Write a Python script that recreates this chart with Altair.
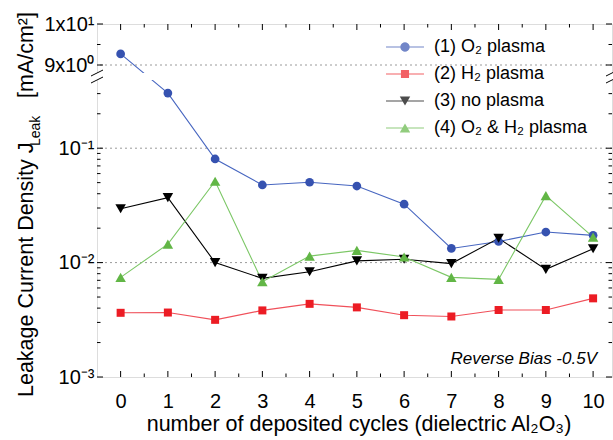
import math
import altair as alt
import pandas as pd

# ---------------- data ----------------
CYCLES = list(range(11))
SERIES = ["(1) O₂ plasma", "(2) H₂ plasma", "(3) no plasma", "(4) O₂ & H₂ plasma"]
O2_PLASMA = [9.27, 0.303, 0.0805, 0.0477, 0.0504, 0.0467, 0.0324, 0.0133, 0.0153, 0.0185, 0.0173]
H2_PLASMA = [0.00364, 0.00366, 0.00316, 0.00382, 0.00436, 0.00406, 0.00347, 0.00338, 0.00385, 0.00385, 0.00487]
NO_PLASMA = [0.0296, 0.0370, 0.0100, 0.00728, 0.00833, 0.01035, 0.0107, 0.0098, 0.0163, 0.00873, 0.0132]
O2_H2_PLASMA = [0.00743, 0.0145, 0.0514, 0.0068, 0.0114, 0.0128, 0.0112, 0.00743, 0.00713, 0.0385, 0.0167]

X_TICKS_MAJOR = CYCLES
X_TICKS_MINOR = [0.5, 1.5, 2.5, 3.5, 4.5, 5.5, 6.5, 7.5, 8.5, 9.5]
Y_TICKS_MAJOR = [10, 9, 0.1, 0.01, 0.001]
Y_TICK_LABELS = ["1x10¹", "9x10⁰", "10⁻¹", "10⁻²", "10⁻³"]
Y_TICKS_MINOR = [9.5, 0.4, 0.3, 0.2,
                 0.09, 0.08, 0.07, 0.06, 0.05, 0.04, 0.03, 0.02,
                 0.009, 0.008, 0.007, 0.006, 0.005, 0.004, 0.003, 0.002]
GRID_VALUES = [9, 0.1, 0.01]

# ---------------- style ----------------
MARKER_COLORS = ["#3652b0", "#ec1c24", "#000000", "#62b646"]
LINE_COLORS = ["#4766c0", "#f0505a", "#000000", "#7cc766"]
MARKER_SHAPES = ["circle", "square", "triangle-down", "triangle-up"]
MARKER_SIZES = [76, 64, 110, 110]
FONT = "Liberation Sans"

W, H = 515, 353
DECADE_PX = 114.4          # lower (log) segment, px per decade
UPPER_PX = 41.0            # upper (linear) segment, px per unit


# legend symbols: a line with the marker on it (custom polygon paths, r = 9 px)
def poly(pts):
    return "M" + "L".join(f"{x:.3f},{y:.3f}" for x, y in pts) + "Z"


LINE_PATH = poly([(-2.11, -0.06), (2.11, -0.06), (2.11, 0.06), (-2.11, 0.06)])
CIRCLE_PATH = poly([(0.52 * math.cos(k * math.pi / 10), 0.52 * math.sin(k * math.pi / 10)) for k in range(20)])
SQUARE_PATH = poly([(-0.45, -0.45), (0.45, -0.45), (0.45, 0.45), (-0.45, 0.45)])
TRI_DOWN_PATH = poly([(-0.58, -0.5), (0.58, -0.5), (0, 0.5)])
TRI_UP_PATH = poly([(0.58, 0.5), (-0.58, 0.5), (0, -0.5)])
LEGEND_PATHS = [LINE_PATH + CIRCLE_PATH, LINE_PATH + SQUARE_PATH,
                LINE_PATH + TRI_DOWN_PATH, LINE_PATH + TRI_UP_PATH]


def ypx(v):
    if v >= 1:
        return H - (10 - v) * UPPER_PX
    return (math.log10(v) + 3) * DECADE_PX


Y_EXPR = (f"datum.v >= 1 ? {H} - (10 - datum.v) * {UPPER_PX} : "
          f"(log(datum.v) / LN10 + 3) * {DECADE_PX}")

rows = []
for name, vals in zip(SERIES, [O2_PLASMA, H2_PLASMA, NO_PLASMA, O2_H2_PLASMA]):
    for c, v in zip(CYCLES, vals):
        rows.append({"series": name, "cycle": c, "v": v})
df = pd.DataFrame(rows)

label_expr = "".join(
    f"abs(datum.value - {ypx(v):.4f}) < 0.5 ? '{lab}' : "
    for v, lab in zip(Y_TICKS_MAJOR, Y_TICK_LABELS)
) + "''"

xscale = alt.Scale(domain=[-0.5, 10.4], nice=False, zero=False)
yscale = alt.Scale(domain=[0, H], nice=False, zero=False)
xaxis = alt.Axis(values=X_TICKS_MAJOR, format="d", title=None, grid=False, domain=False,
                 ticks=False, tickSize=0, labelPadding=14, labelFontSize=20,
                 labelFont=FONT, labelColor="black", labelFlush=False, labelOverlap=False)
yaxis = alt.Axis(values=[ypx(v) for v in Y_TICKS_MAJOR], labelExpr=label_expr, title=None,
                 grid=False, domain=False, ticks=False, tickSize=0, labelPadding=3,
                 labelFontSize=20, labelFont=FONT, labelColor="black", labelOverlap=False)


def X(field):
    return alt.X(field, type="quantitative", scale=xscale, axis=xaxis)


def Y(field):
    return alt.Y(field, type="quantitative", scale=yscale, axis=yaxis)


one = alt.Data(values=[{"a": 1}])
layers = []

# dotted grid lines
layers.append(
    alt.Chart(pd.DataFrame({"v": GRID_VALUES})).transform_calculate(ypx=Y_EXPR)
    .mark_rule(color="#9a9a9a", strokeDash=[2, 3], strokeWidth=1)
    .encode(y=Y("ypx"))
)

# inward ticks (bottom / top)
for vals, ln in [(X_TICKS_MAJOR, 6), (X_TICKS_MINOR, 3.5)]:
    d = pd.DataFrame({"t": vals})
    layers.append(alt.Chart(d).mark_rule(color="black", strokeWidth=1)
                  .encode(x=X("t"), y=alt.value(H), y2=alt.value(H - ln)))
    layers.append(alt.Chart(d).mark_rule(color="black", strokeWidth=1)
                  .encode(x=X("t"), y=alt.value(0), y2=alt.value(ln)))
# inward ticks (left / right)
for vals, ln in [(Y_TICKS_MAJOR, 6), (Y_TICKS_MINOR, 3.5)]:
    d = pd.DataFrame({"v": vals})
    layers.append(alt.Chart(d).transform_calculate(ypx=Y_EXPR).mark_rule(color="black", strokeWidth=1)
                  .encode(y=Y("ypx"), x=alt.value(0), x2=alt.value(ln)))
    layers.append(alt.Chart(d).transform_calculate(ypx=Y_EXPR).mark_rule(color="black", strokeWidth=1)
                  .encode(y=Y("ypx"), x=alt.value(W), x2=alt.value(W - ln)))

# series lines (one layer per series, fixed colours)
for name, col in zip(SERIES, LINE_COLORS):
    layers.append(
        alt.Chart(df).transform_filter(alt.datum.series == name).transform_calculate(ypx=Y_EXPR)
        .mark_line(strokeWidth=1.1, color=col)
        .encode(x=X("cycle"), y=Y("ypx"), order="cycle:Q")
    )

# axis break: white gap + slashes
layers.append(alt.Chart(one).mark_rect(color="white")
              .encode(x=alt.value(-3), x2=alt.value(W + 3), y=alt.value(49), y2=alt.value(56)))
for cx in [0, W]:
    for cy in [49, 56]:
        layers.append(alt.Chart(one).mark_rule(color="black", strokeWidth=1)
                      .encode(x=alt.value(cx - 6), x2=alt.value(cx + 6),
                              y=alt.value(cy + 3), y2=alt.value(cy - 3)))

# markers
for name, shape, col, size in zip(SERIES, MARKER_SHAPES, MARKER_COLORS, MARKER_SIZES):
    layers.append(
        alt.Chart(df).transform_filter(alt.datum.series == name).transform_calculate(ypx=Y_EXPR)
        .mark_point(shape=shape, filled=True, size=size, color=col, opacity=1, strokeWidth=0)
        .encode(x=X("cycle"), y=Y("ypx"))
    )

# legend carrier layer (its own marks have size 0, only the legend shows)
leg = alt.Legend(title=None, orient="none", legendX=298, legendY=13, padding=0,
                 symbolSize=324, labelFontSize=18, labelFont=FONT, labelColor="black",
                 labelOffset=19, rowPadding=8, labelLimit=400)
layers.append(
    alt.Chart(df).transform_calculate(ypx=Y_EXPR).mark_point(filled=True, size=0)
    .encode(x=X("cycle"), y=Y("ypx"),
            color=alt.Color("series:N", scale=alt.Scale(domain=SERIES, range=MARKER_COLORS), legend=leg),
            shape=alt.Shape("series:N", scale=alt.Scale(domain=SERIES, range=LEGEND_PATHS), legend=leg))
)

# texts
layers.append(alt.Chart(one).mark_text(text="Reverse Bias -0.5V", font=FONT, fontSize=17,
                                       fontStyle="italic", align="right", baseline="alphabetic")
              .encode(x=alt.value(500), y=alt.value(340)))
layers.append(alt.Chart(one).mark_text(text="number of deposited cycles (dielectric Al₂O₃)",
                                       font=FONT, fontSize=21.5, align="center", baseline="alphabetic")
              .encode(x=alt.value(262), y=alt.value(407)))
layers.append(alt.Chart(one).mark_text(text="Leakage Current Density J", font=FONT, fontSize=21.5,
                                       angle=270, align="left", baseline="alphabetic")
              .encode(x=alt.value(-64.5), y=alt.value(373)))
layers.append(alt.Chart(one).mark_text(text="Leak", font=FONT, fontSize=14,
                                       angle=270, align="left", baseline="alphabetic")
              .encode(x=alt.value(-57.5), y=alt.value(122)))
layers.append(alt.Chart(one).mark_text(text="[mA/cm²]", font=FONT, fontSize=21.5,
                                       angle=270, align="right", baseline="alphabetic")
              .encode(x=alt.value(-64.5), y=alt.value(-12)))

chart = alt.layer(*layers).properties(
    width=W, height=H,
    autosize=alt.AutoSizeParams(type="none"),
    padding={"left": 97, "top": 24, "right": 1, "bottom": 63},
).configure_view(stroke="black", strokeWidth=1).configure(font=FONT, background="white")

chart.save("out.html", embed_options={"renderer": "svg", "actions": False})
